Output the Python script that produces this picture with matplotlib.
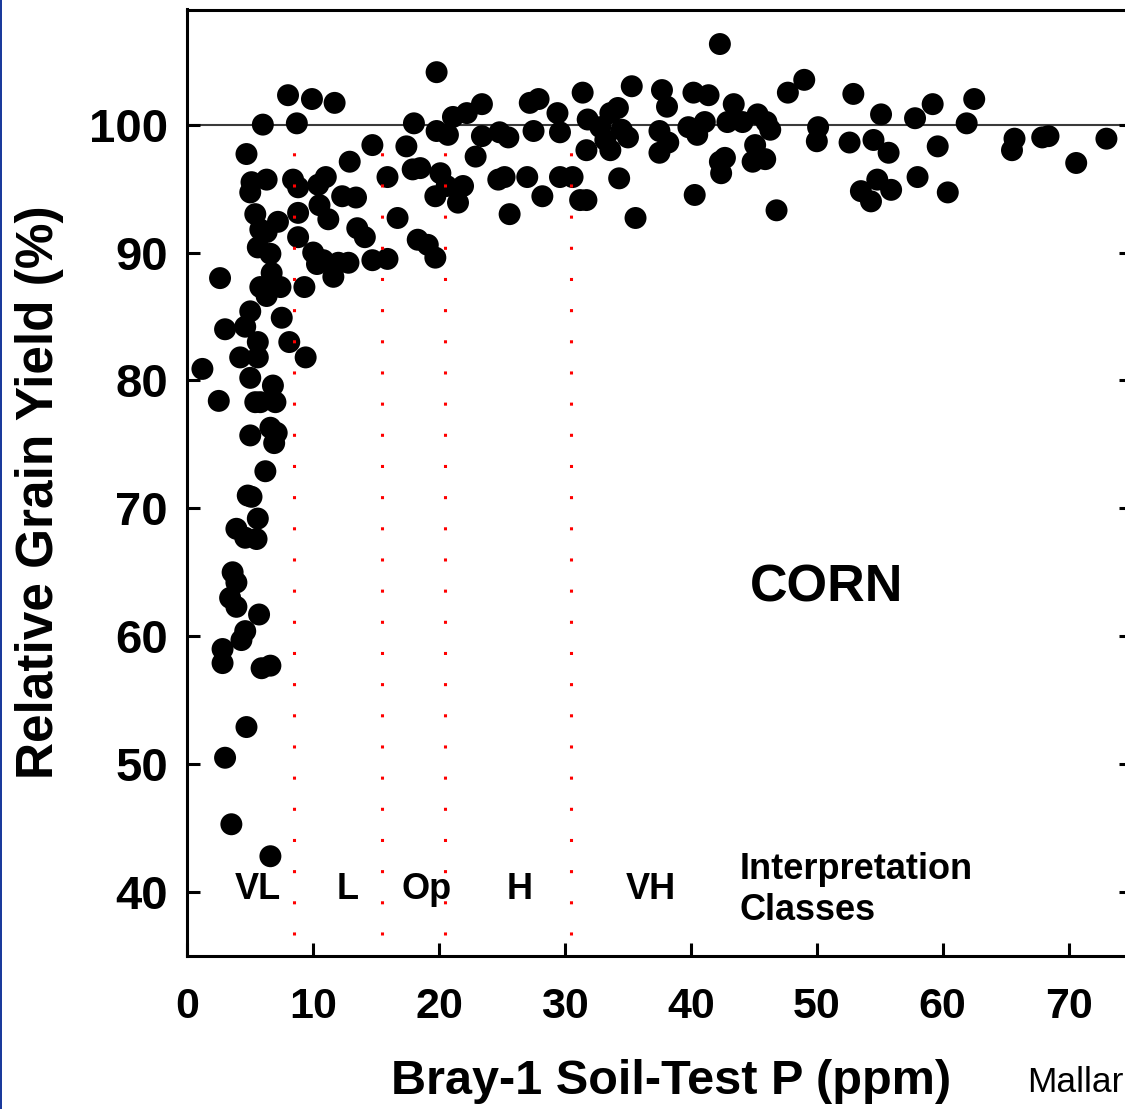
import matplotlib
matplotlib.use("Agg")
import matplotlib.pyplot as plt
from matplotlib.patches import Rectangle

# ---- data ----
soil_p = [
    1.2, 2.6, 2.5, 3.0, 2.8, 2.8, 3.0, 3.5, 3.6, 3.9, 3.4, 3.9, 3.9, 4.3, 4.6, 4.7,
    4.2, 4.7, 4.8, 5.1, 4.6, 5.5, 5.6, 5.0, 5.0, 5.4, 5.8, 5.0, 4.6, 5.1, 5.0, 5.4,
    5.6, 5.6, 5.6, 5.8, 5.8, 6.3, 6.0, 6.3, 5.7, 5.9, 6.6, 6.2, 6.3, 6.6, 6.7, 6.6,
    6.8, 7.0, 6.6, 7.1, 6.9, 6.6, 7.4, 7.2, 7.5, 8.1, 8.0, 8.4, 8.8, 8.7, 8.8, 8.8,
    9.3, 9.4, 9.9, 10.0, 10.4, 11.0, 10.5, 11.2, 10.8, 10.3, 11.6, 12.0, 11.7, 12.3,
    13.4, 12.9, 13.5, 14.1, 12.8, 14.7, 14.7, 15.9, 15.9, 16.7, 17.4, 18.0, 17.9,
    18.5, 18.3, 19.1, 19.7, 19.8, 19.8, 20.1, 19.7, 20.7, 20.6, 21.1, 21.9, 21.5,
    22.2, 23.4, 22.9, 23.4, 24.8, 25.5, 24.7, 25.2, 25.6, 27.0, 27.2, 27.9, 27.5,
    28.2, 29.4, 29.6, 29.6, 30.6, 31.4, 31.8, 31.7, 31.2, 31.7, 32.8, 33.6, 34.2,
    33.2, 34.5, 35.0, 33.6, 34.3, 35.3, 35.6, 37.7, 38.1, 37.5, 38.2, 37.5, 40.2,
    41.4, 39.8, 40.5, 41.1, 40.3, 42.3, 43.4, 42.9, 44.1, 45.3, 46.0, 46.3, 42.3,
    42.7, 42.4, 45.1, 44.9, 45.9, 46.8, 47.7, 49.0, 52.9, 55.1, 57.8, 59.2, 62.5,
    61.9, 50.1, 50.0, 52.6, 54.5, 55.7, 59.6, 53.5, 54.8, 55.9, 54.3, 58.0, 60.4,
    65.7, 65.5, 67.9, 68.4, 73.0, 70.6,
]
rel_yield = [
    80.9, 88.0, 78.4, 84.0, 59.0, 57.9, 50.5, 45.3, 65.0, 64.2, 63.0, 62.3, 68.4, 59.7, 60.4, 52.9,
    81.8, 97.7, 71.0, 70.9, 67.7, 67.6, 69.2, 75.7, 80.2, 78.3, 78.3, 85.4, 84.2, 95.5, 94.7, 93.0,
    83.0, 81.8, 90.4, 87.3, 91.8, 91.6, 100.0, 95.7, 61.7, 57.5, 57.7, 72.9, 86.6, 89.9, 88.4, 87.3,
    79.6, 78.3, 76.3, 75.9, 75.1, 42.8, 87.3, 92.4, 84.9, 83.0, 102.3, 95.7, 95.1, 100.1, 93.1, 91.2,
    87.3, 81.8, 102.0, 90.0, 95.3, 95.9, 93.7, 92.6, 89.4, 89.1, 88.1, 89.2, 101.7, 94.4,
    94.3, 97.1, 91.9, 91.2, 89.2, 98.4, 89.4, 89.5, 95.9, 92.7, 98.3, 100.1, 96.5,
    96.6, 91.0, 90.6, 89.6, 104.1, 99.5, 96.2, 94.4, 99.2, 95.2, 100.6, 95.2, 93.9,
    100.9, 101.6, 97.5, 99.1, 99.4, 99.0, 95.7, 95.9, 93.0, 95.9, 101.7, 102.0, 99.5,
    94.4, 100.9, 99.4, 95.9, 95.9, 102.5, 100.4, 98.0, 94.1, 94.1, 99.8, 100.9, 101.3,
    98.8, 99.6, 99.0, 98.0, 95.8, 103.0, 92.7, 102.7, 101.4, 99.5, 98.6, 97.8, 102.5,
    102.3, 99.8, 99.2, 100.2, 94.5, 106.3, 101.6, 100.2, 100.2, 100.8, 100.2, 99.6, 97.1,
    97.4, 96.2, 98.4, 97.1, 97.3, 93.3, 102.5, 103.5, 102.4, 100.8, 100.5, 101.6, 102.0,
    100.1, 99.8, 98.7, 98.6, 98.8, 97.8, 98.3, 94.8, 95.7, 94.9, 94.0, 95.9, 94.7,
    98.9, 98.0, 99.0, 99.1, 98.9, 97.0,
]

x_ticks = [0, 10, 20, 30, 40, 50, 60, 70]
y_ticks = [40, 50, 60, 70, 80, 90, 100]
class_bounds = [8.5, 15.5, 20.5, 30.5]
class_labels = ["VL", "L", "Op", "H", "VH"]
class_label_x = [5.6, 12.7, 19.0, 26.4, 36.8]

FONT = ["Liberation Sans", "DejaVu Sans"]
plt.rcParams["font.family"] = FONT

W, H = 1125, 1109
fig = plt.figure(figsize=(W / 100, H / 100), dpi=100)

left_px, right_px, top_px, bottom_px = 187.3, 1131.6, 9.5, 956.0
ax = fig.add_axes([left_px / W, 1 - bottom_px / H,
                   (right_px - left_px) / W, (bottom_px - top_px) / H])
ax.set_xlim(0, 75)
ax.set_ylim(35, 109)

ax.axhline(100, color="#3a3a3a", lw=1.5, zorder=1)
ax.scatter(soil_p, rel_yield, s=250, c="black", edgecolors="none", zorder=2)
ax.vlines(class_bounds, 36.66, 100.0, colors="red", lw=2.2,
          linestyles=(0, (1, 9.2)), zorder=3)

for sp in ax.spines.values():
    sp.set_linewidth(2.2)
    sp.set_color("black")

ax.set_xticks(x_ticks)
ax.set_yticks(y_ticks)
ax.tick_params(axis="both", direction="in", length=9.5, width=2.2, pad=14)
ax.tick_params(axis="x", pad=22, labelsize=31)
ax.tick_params(axis="y", right=True, left=True, labelsize=34)
for lab in ax.get_xticklabels() + ax.get_yticklabels():
    lab.set_fontweight("bold")
    lab.set_family(FONT)

# class labels
for lx, txt in zip(class_label_x, class_labels):
    ax.text(lx, 40.2, txt, fontsize=26, fontweight="bold",
            ha="center", va="center")
ax.text(43.85, 41.75, "Interpretation", fontsize=26, fontweight="bold",
        ha="left", va="center")
ax.text(43.85, 38.55, "Classes", fontsize=26, fontweight="bold",
        ha="left", va="center")
ax.text(50.8, 63.8, "CORN", fontsize=37.5, fontweight="bold",
        ha="center", va="center")

fig.text(671 / W, 1 - 1082 / H, "Bray-1 Soil-Test P (ppm)", fontsize=35,
         fontweight="bold", ha="center", va="center")
fig.text(40 / W, 1 - 492 / H, "Relative Grain Yield (%)", fontsize=37,
         fontweight="bold", ha="center", va="center", rotation=90)
fig.text(1027 / W, 1 - 1082 / H, "Mallar", fontsize=25.5,
         ha="left", va="center")

fig.add_artist(Rectangle((0, 0), 2 / W, 1, transform=fig.transFigure,
                         color="#1a3a9c", lw=0))

fig.savefig("out.png", dpi=100)
